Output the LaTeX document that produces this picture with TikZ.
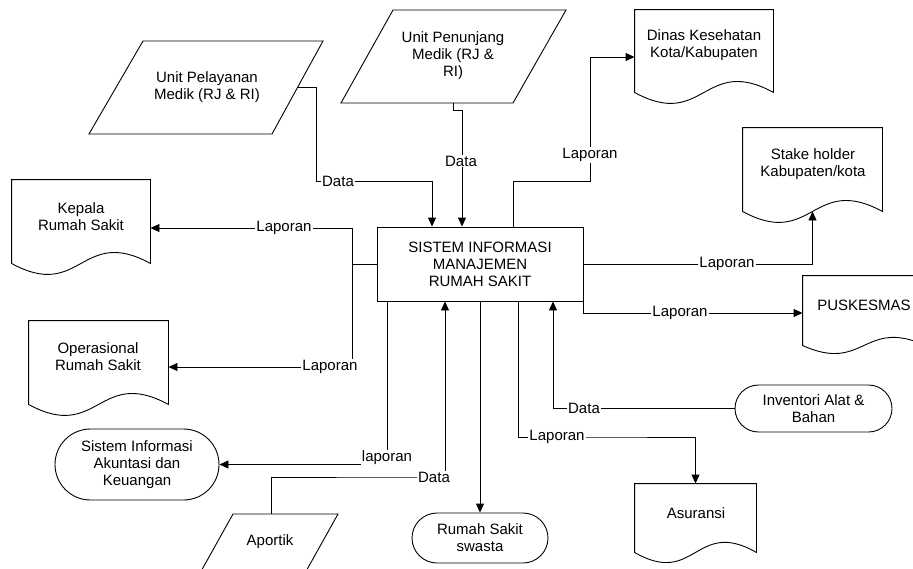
\documentclass[tikz,border=0pt]{standalone}
\usepackage{fontspec}
\setmainfont{Liberation Sans}
\usetikzlibrary{arrows.meta,shapes.misc}
\newcommand\docoutline[2]{\draw (#1.south west) -- (#1.north west) -- (#1.north east) -- (#1.south east) .. controls ([yshift=#2]#1.south) and ([yshift=-#2]#1.south) .. (#1.south west) -- cycle;}
\begin{document}
\begin{tikzpicture}[x=1pt,y=-1pt,line width=0.9pt,
  every node/.style={font=\fontsize{15}{17}\selectfont},
  txt/.style={align=center, inner sep=0pt},
  sysbox/.style={draw, minimum width=206pt, minimum height=74pt, align=center, inner sep=0pt},
  docarea/.style={draw=none, inner sep=0pt},
  oval/.style={draw, rounded rectangle, align=center, inner sep=0pt},
  lbl/.style={fill=white, inner sep=1pt},
  conn/.style={-{Triangle[length=9pt,width=8pt]}}]
\useasboundingbox (0,0) rectangle (913,568);
\clip (0,0) rectangle (913,568);

% main system
\node[sysbox] (sim) at (480,264) {SISTEM INFORMASI\\MANAJEMEN\\RUMAH SAKIT};

% parallelograms
\draw (143,41) -- (323,41) -- (272,134) -- (89,134) -- cycle;
\node[txt] (upmT) at (207,87) {Unit Pelayanan\\Medik (RJ \& RI)};
\coordinate (upmR) at (298,87);
\draw (393,10) -- (566,10) -- (513,103) -- (341,103) -- cycle;
\node[txt] (upnT) at (453,56) {Unit Penunjang\\Medik (RJ \&\\RI)};
\coordinate (upnB) at (453,103);
\draw (233,514) -- (338,514) -- (290,600) -- (185,600) -- cycle;
\node[txt] (apoT) at (270,542) {Aportik};
\coordinate (apoN) at (271,514);

% documents
\node[docarea, minimum width=138pt, minimum height=83pt] (kepala) at (81,221.5) {};
\docoutline{kepala}{38pt}
\node[txt] (kepalaT) at (81,216.5) {Kepala\\Rumah Sakit};
\node[docarea, minimum width=139pt, minimum height=83pt] (oper) at (98.5,362.5) {};
\docoutline{oper}{38pt}
\node[txt] (operT) at (98,356.5) {Operasional\\Rumah Sakit};
\node[docarea, minimum width=138pt, minimum height=82pt] (dinas) at (704,51) {};
\docoutline{dinas}{38pt}
\node[txt] (dinasT) at (704,45.5) {Dinas Kesehatan\\Kota/Kabupaten};
\node[docarea, minimum width=139pt, minimum height=83pt] (stake) at (812.5,169.5) {};
\docoutline{stake}{38pt}
\node[txt] (stakeT) at (813,164.5) {Stake holder\\Kabupaten/kota};
\node[docarea, minimum width=122pt, minimum height=69pt] (pusk) at (864,310.5) {};
\docoutline{pusk}{28pt}
\node[txt] (puskT) at (864,305) {PUSKESMAS};
\node[docarea, minimum width=121pt, minimum height=68pt] (asur) at (695.5,518) {};
\docoutline{asur}{35pt}
\node[txt] (asurT) at (696,513) {Asuransi};

% terminals
\node[oval, minimum width=164pt, minimum height=71pt] (siak) at (137,464.5) {Sistem Informasi\\Akuntasi dan\\Keuangan};
\node[oval, minimum width=157pt, minimum height=47pt] (inv) at (813.5,408.5) {Inventori Alat \&\\Bahan};
\node[oval, minimum width=136pt, minimum height=50pt] (rss) at (480,538) {Rumah Sakit\\swasta};

% connectors
\draw[conn] (upmR) -- (316,87) -- (316,181) -| ([xshift=-48pt]sim.north);
\draw[conn] (upnB) -- (453,110) -| ([xshift=-18pt]sim.north);
\draw[conn] ([xshift=33pt]sim.north) |- (590,181) |- ([yshift=-6pt]dinas.west);
\draw[conn] (sim.east) -| (stake.south);
\draw[conn] (sim.south east) |- ([yshift=-2.5pt]pusk.west);
\draw[conn] (inv.west) -| ([xshift=73pt]sim.south);
\draw[conn] ([xshift=38pt]sim.south) |- (600,437) -| (asur.north);
\draw[conn] (sim.south) -- (rss.north);
\draw[conn] (apoN) |- (400,477) -| ([xshift=-35pt]sim.south);
\draw[conn] ([xshift=-93pt]sim.south) |- (siak.east);
\draw[conn] (sim.west) -- (352,264) |- ([yshift=-6.5pt]kepala.east);
\draw[conn] (352,264) |- ([yshift=-4.5pt]oper.east);

% labels
\node[lbl] (l1) at (338,181) {Data};
\node[lbl] (l2) at (461,161) {Data};
\node[lbl] (l3) at (590,155) {Laporan};
\node[lbl] (l4) at (727,264) {Laporan};
\node[lbl] (l5) at (680,313) {Laporan};
\node[lbl] (l6) at (584,408) {Data};
\node[lbl] (l7) at (557,437) {Laporan};
\node[lbl] (l8) at (434,477) {Data};
\node[lbl] (l9) at (387,458) {laporan};
\node[lbl] (l10) at (284,228) {Laporan};
\node[lbl] (l11) at (330,367) {Laporan};
\end{tikzpicture}
\end{document}
